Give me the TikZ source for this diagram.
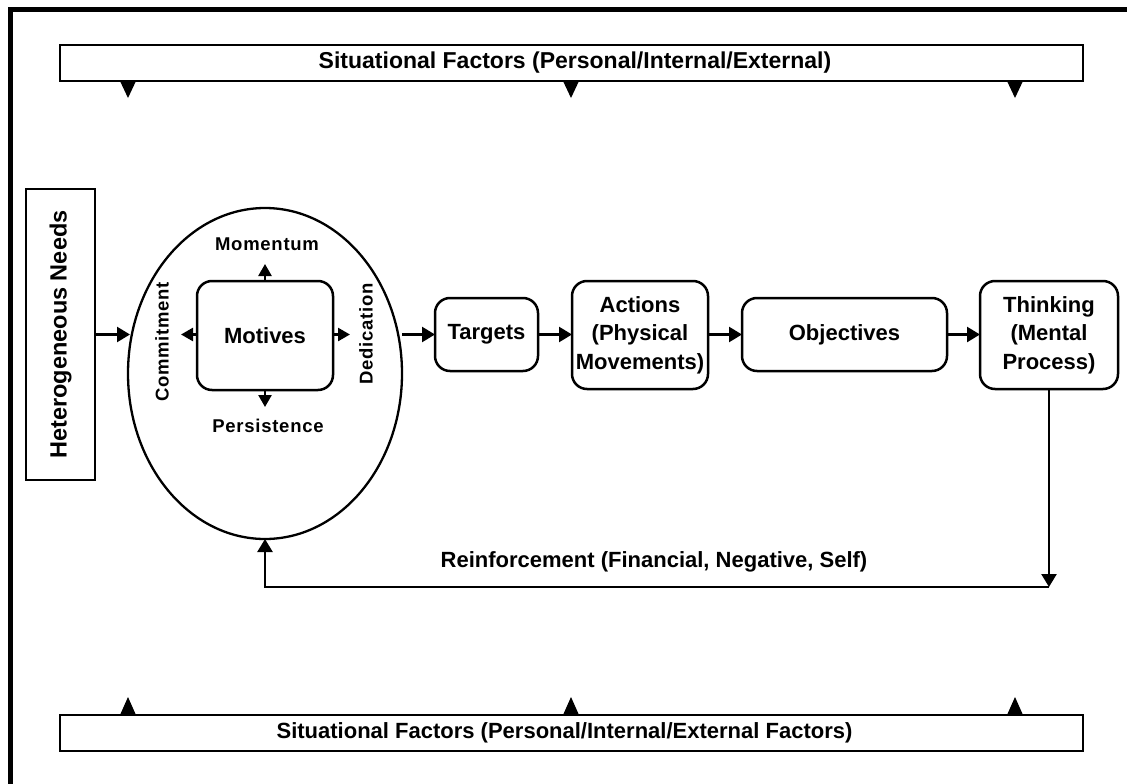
\documentclass[tikz,border=0pt]{standalone}
\usepackage{fontspec}
\setmainfont{Liberation Sans}
\newfontfamily\spacedfont[LetterSpace=4]{Liberation Sans}
\usetikzlibrary{arrows.meta,shapes.geometric}

\begin{document}
\begin{tikzpicture}[x=1pt,y=-1pt,
  every node/.style={inner sep=0pt,outer sep=0pt},
  mainfont/.style={font=\fontsize{22}{28.5}\selectfont\bfseries},
  stagebox/.style={draw,line width=2.5pt,rounded corners=15pt,align=center,mainfont},
  plainbox/.style={draw,line width=2.2pt,align=center,mainfont},
  sidelabel/.style={font=\spacedfont\fontsize{18.5}{22}\selectfont\bfseries},
  arr/.style={line width=2.5pt,-{Triangle[length=13pt,width=15pt]}},
  smallarr/.style={line width=2.5pt,-{Triangle[length=12pt,width=13pt]}},
  fact/.style={fill=black}]

\useasboundingbox (0,0) rectangle (1127,784);

% heavy frame on the left and top edges
\draw[line width=5.5pt,line join=miter] (10.5,784) -- (10.5,9.5) -- (1127,9.5);

% situational factor bars
\node[plainbox,minimum width=1023,minimum height=36,font=\fontsize{23}{28}\selectfont\bfseries] (topbar) at (571.5,63)
  {\hspace*{7pt}Situational Factors (Personal/Internal/External)};
\node[plainbox,minimum width=1023,minimum height=36] (botbar) at (571.5,733)
  {Situational Factors (Personal/Internal/External Factors)\hspace*{14pt}};

% influence markers along the bars
\foreach \x in {128,571,1015} {
  \fill[fact] (\x-8,81) -- (\x+8,81) -- (\x,98) -- cycle;
  \fill[fact] (\x-8,715) -- (\x+8,715) -- (\x,697) -- cycle;
}

% needs
\node[plainbox,line width=2.5pt,minimum width=69,minimum height=291,font=\fontsize{23.5}{28}\selectfont\bfseries] (needs) at (60.5,334.5)
  {\rotatebox{90}{Heterogeneous Needs}};

% motivation ellipse with motives in the middle
\node[draw,ellipse,line width=2.3pt,minimum width=274,minimum height=331] (ell) at (265,373.5) {};
\node[stagebox,minimum width=136,minimum height=109] (mot) at (265,335.5) {Motives};

\node[sidelabel] (mom) at (267,244) {Momentum};
\node[sidelabel] (per) at (268,426) {Persistence};
\node[sidelabel,rotate=90] (com) at (162,342) {Commitment};
\node[sidelabel,rotate=90] (ded) at (366,334) {Dedication};

\coordinate (momtip) at (265,264);
\coordinate (pertip) at (265,407);
\coordinate (comtip) at (181,334.5);
\coordinate (dedtip) at (350,334.5);
\draw[smallarr] (mot.north) -- (momtip);
\draw[smallarr] (mot.south) -- (pertip);
\draw[smallarr] (mot.west |- comtip) -- (comtip);
\draw[smallarr] (mot.east |- dedtip) -- (dedtip);

% stages
\node[stagebox,minimum width=103,minimum height=73] (tgt) at (486.5,334.5) {Targets};
\node[stagebox,minimum width=136,minimum height=108] (act) at (640,335) {Actions\\(Physical\\Movements)};
\node[stagebox,minimum width=205,minimum height=73] (obj) at (844.5,334.5) {Objectives};
\node[stagebox,minimum width=138,minimum height=108] (thk) at (1049,335) {Thinking\\(Mental\\Process)};

% flow
\coordinate (elleft) at (130,334.5);
\coordinate (elright) at (402,334.5);
\draw[arr] (needs.east |- elleft) -- (elleft);
\draw[arr] (elright) -- (tgt.west);
\draw[arr] (tgt.east) -- (act.west |- tgt.east);
\draw[arr] (act.east |- obj.west) -- (obj.west);
\draw[arr] (obj.east) -- (thk.west |- obj.east);

% feedback loop
\coordinate (fbc) at (1049,587);
\draw[arr] (thk.south) -- (fbc);
\draw[arr] (fbc) -- (fbc -| ell.south) -- (ell.south);
\node[mainfont] (reinf) at (654,562) {Reinforcement (Financial, Negative, Self)};

\end{tikzpicture}
\end{document}
